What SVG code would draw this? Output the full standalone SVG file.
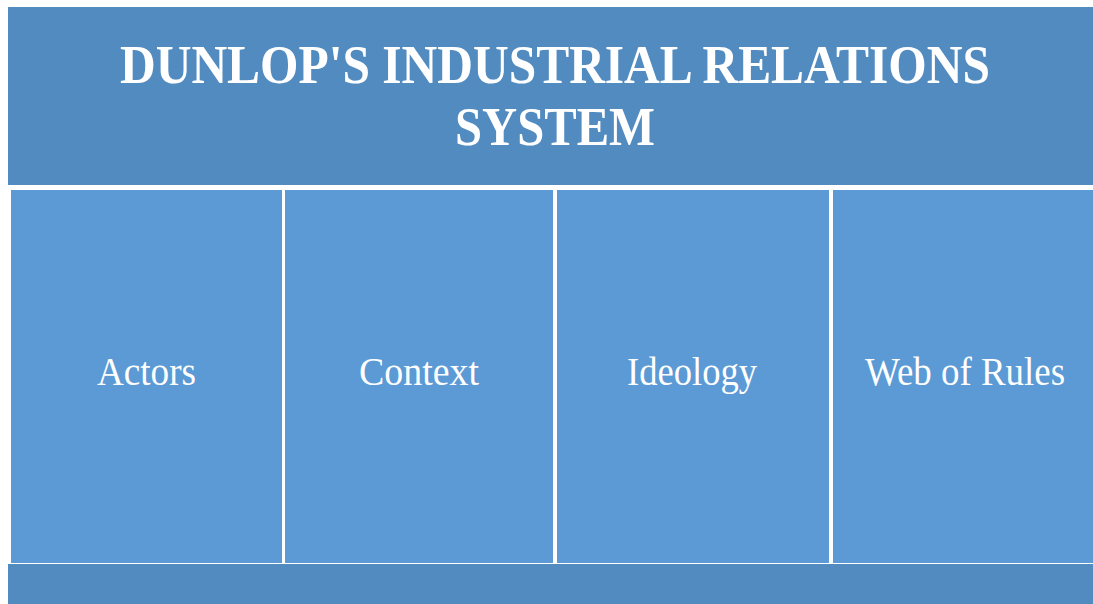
<svg xmlns="http://www.w3.org/2000/svg" width="1093" height="604" viewBox="0 0 1093 604">
  <style>
    .band { fill: #528bc0; }
    .col { fill: #5b9ad5; }
    .title { font-family: "Liberation Serif", "Times New Roman", serif; font-weight: bold; font-size: 54px; fill: #ffffff; text-anchor: middle; }
    .label { font-family: "Liberation Serif", "Times New Roman", serif; font-size: 39px; fill: #ffffff; text-anchor: middle; }
  </style>
  <rect x="0" y="0" width="1093" height="604" fill="#ffffff"/>

  <g id="header">
    <rect class="band" x="8" y="7" width="1085" height="178"/>
    <text class="title" x="555" y="83" textLength="870" lengthAdjust="spacingAndGlyphs">DUNLOP'S INDUSTRIAL RELATIONS</text>
    <text class="title" x="555" y="145" textLength="200" lengthAdjust="spacingAndGlyphs">SYSTEM</text>
  </g>

  <g id="actors">
    <rect class="col" x="11" y="190" width="271" height="373"/>
    <text class="label" x="146.5" y="385" textLength="99" lengthAdjust="spacingAndGlyphs">Actors</text>
  </g>

  <g id="context">
    <rect class="col" x="285" y="190" width="268" height="373"/>
    <text class="label" x="419" y="385" textLength="120" lengthAdjust="spacingAndGlyphs">Context</text>
  </g>

  <g id="ideology">
    <rect class="col" x="557" y="190" width="272" height="373"/>
    <text class="label" x="692" y="385" textLength="130" lengthAdjust="spacingAndGlyphs">Ideology</text>
  </g>

  <g id="web-of-rules">
    <rect class="col" x="833" y="190" width="260" height="373"/>
    <text class="label" x="965" y="385" textLength="200" lengthAdjust="spacingAndGlyphs">Web of Rules</text>
  </g>

  <g id="footer">
    <rect class="band" x="8" y="564" width="1085" height="40"/>
  </g>

  <g id="connectors"/>
</svg>
